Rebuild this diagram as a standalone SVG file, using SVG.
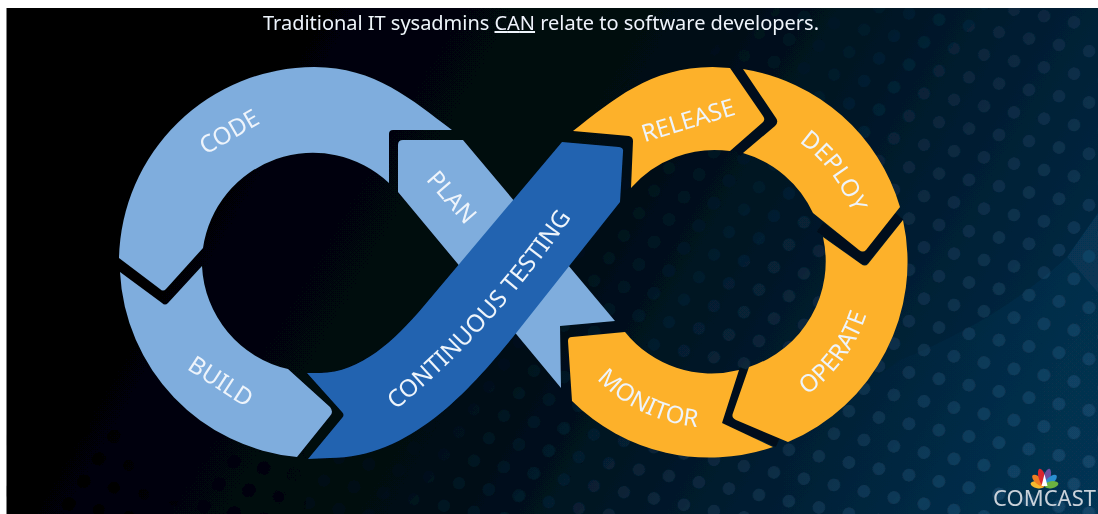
<svg xmlns="http://www.w3.org/2000/svg" width="1098" height="514" viewBox="0 0 1098 514">
<style>
.lb{fill:#7faddd}.db{fill:#2264b0}.or{fill:#fdb12a}
.t{font-family:"Noto Sans","Open Sans","DejaVu Sans",sans-serif;fill:#eef4fb;font-size:24px}
.c{text-anchor:middle}
.gap{fill:none;stroke:#01101b;stroke-width:11;stroke-linejoin:round}
</style>
<defs>
<linearGradient id="bg" gradientUnits="userSpaceOnUse" x1="280" y1="40" x2="1098" y2="514">
<stop offset="0" stop-color="#000305"/><stop offset=".35" stop-color="#000a12"/><stop offset=".62" stop-color="#021a2c"/><stop offset="1" stop-color="#05304f"/>
</linearGradient>
<linearGradient id="bandG" gradientUnits="userSpaceOnUse" x1="780" y1="400" x2="1060" y2="400">
<stop offset="0" stop-color="#0a4468" stop-opacity="0"/><stop offset="1" stop-color="#0a4468" stop-opacity=".22"/>
</linearGradient>
<linearGradient id="fadeG" gradientUnits="userSpaceOnUse" x1="620" y1="80" x2="1020" y2="460">
<stop offset="0" stop-color="#000"/><stop offset="1" stop-color="#fff"/>
</linearGradient>
<linearGradient id="fadeL" gradientUnits="userSpaceOnUse" x1="0" y1="420" x2="0" y2="514">
<stop offset="0" stop-color="#000"/><stop offset="1" stop-color="#fff"/>
</linearGradient>
<mask id="fade" maskUnits="userSpaceOnUse" x="0" y="0" width="1098" height="514"><rect width="1098" height="514" fill="url(#fadeG)"/></mask>
<mask id="fadeB" maskUnits="userSpaceOnUse" x="0" y="0" width="1098" height="514"><rect x="6" y="420" width="300" height="94" fill="url(#fadeL)"/></mask>
<pattern id="dots" patternUnits="userSpaceOnUse" width="30" height="22.5" patternTransform="matrix(1 .21 -.667 1 1006.5 200.6)">
<circle r="6.3" fill="#3a7dab" fill-opacity=".24" transform="matrix(.877 -.184 .585 .877 15 11.25)"/>
</pattern>
<pattern id="dotsK" patternUnits="userSpaceOnUse" width="30" height="22.5" patternTransform="matrix(1 .21 -.667 1 1006.5 200.6)">
<circle r="6" fill="#000" fill-opacity=".35" transform="matrix(.877 -.184 .585 .877 15 11.25)"/>
</pattern>
<filter id="soft" filterUnits="userSpaceOnUse" x="0" y="0" width="1098" height="514"><feGaussianBlur stdDeviation=".55"/></filter>
<path id="pDeploy" d="M749.4 119.4A144 144 0 0 1 859.3 266.7"/>
<path id="pOperate" d="M725.9 423.2A158 158 0 0 0 870.2 228.9"/>
<path id="pMonitor" d="M556.6 307.5A160 160 0 0 0 777.9 413.1"/>
<path id="pTest" d="M370 430Q493 338 590 190"/>
</defs>
<rect width="1098" height="514" fill="#fff"/>
<g filter="url(#soft)">
<g id="background">
<rect x="6.5" y="8" width="1092" height="506" fill="url(#bg)"/>
<path d="M1067 257Q1000 320 900 360L690 514H1098V293Z" fill="url(#bandG)"/>
<path d="M1098 213L1067 257L1098 293Z" fill="#0a4468" fill-opacity=".45"/>
<rect x="6.5" y="8" width="1092" height="506" fill="url(#dots)" mask="url(#fade)"/>
<rect x="6.5" y="8" width="1092" height="506" fill="url(#dotsK)" mask="url(#fadeB)"/>
</g>
<text id="title" class="t" x="263" y="30" style="font-size:20px" textLength="556">Traditional IT sysadmins <tspan text-decoration="underline">CAN</tspan> relate to software developers.</text>
<g id="gaps">
<path class="gap" d="M738 70L772 121L737 152"/>
<path class="gap" d="M899 216L864 259L820 227"/>
<path class="gap" d="M745 369L728 420L778 442"/>
</g>
<g id="plan">
<path class="lb" d="M398 192V145Q398 140 403 140H463L615 321L560 326L561 388Z"/>
<text class="t c" transform="translate(452 197) rotate(49)" dy=".36em">PLAN</text>
</g>
<g id="code">
<path class="lb" d="M452 130C412 100 375 67 314.5 67A195.5 195.5 0 0 0 119 258L160 289Q163 292 166 289L203 248A111 111 0 0 1 389 183V134Q389 130 393 130Z"/>
<text class="t c" transform="translate(229 131.5) rotate(-30)" dy=".36em">CODE</text>
</g>
<g id="build">
<path class="lb" d="M120 272L162 303Q165 306 168 303L202 266A111 111 0 0 0 288 369L330 407Q334 412 330 416L297 457A195.5 195.5 0 0 1 120 272Z"/>
<text class="t c" transform="translate(221 381) rotate(33)" dy=".36em">BUILD</text>
</g>
<g id="continuous-testing">
<path class="db" d="M307 373H320C360 373 395 340 423 307L562 142L619 147Q624 148 623 152L620 202L570 265L513 337C470 390 410 458 330 458L308 459L342 418Q345 415 342 412Z"/>
<text class="t c"><textPath href="#pTest" startOffset="50%">CONTINUOUS TESTING</textPath></text>
</g>
<g id="release">
<path class="or" d="M573 131C613 100 650 67 712.5 67L730 68L763 116Q766 120 762 123L730 151A111 111 0 0 0 631 188L633 141Q633 137 629 136Z"/>
<text class="t c" transform="translate(688 120) rotate(-17)" dy=".36em">RELEASE</text>
</g>
<g id="deploy">
<path class="or" d="M743 69A195.5 195.5 0 0 1 900 207L866 250Q863 253 859 250L813 213A111 111 0 0 0 743 153L775 126Q779 122 776 118Z"/>
<text class="t c"><textPath href="#pDeploy" startOffset="50%">DEPLOY</textPath></text>
</g>
<g id="operate">
<path class="or" d="M903 220A195.5 195.5 0 0 1 788 442L736 420Q731 418 733 413L749 367A111 111 0 0 0 823 237L861 264Q865 267 868 264Z"/>
<text class="t c"><textPath href="#pOperate" startOffset="50%">OPERATE</textPath></text>
</g>
<g id="monitor">
<path class="or" d="M572 337L625 332A111 111 0 0 0 739 370L722 423L773 447A195.5 195.5 0 0 1 572 401L568 341Q568 337 572 337Z"/>
<text class="t c"><textPath href="#pMonitor" startOffset="50%">MONITOR</textPath></text>
</g>
<g id="logo">
<g transform="translate(1044.5 486)">
<ellipse cy="-7" rx="3.5" ry="7" fill="#f5b92e" transform="rotate(-80)"/>
<ellipse cy="-8" rx="3.6" ry="8" fill="#ef7d22" transform="rotate(-48)"/>
<ellipse cy="-9" rx="3.4" ry="9" fill="#d9252f" transform="rotate(-16)"/>
<ellipse cy="-9" rx="3.4" ry="9" fill="#6a4fa0" transform="rotate(16)"/>
<ellipse cy="-8" rx="3.6" ry="8" fill="#2a8fd0" transform="rotate(48)"/>
<ellipse cy="-7" rx="3.5" ry="7" fill="#6cb33f" transform="rotate(80)"/>
<path d="M-3 0L0 -12L3 0Z" fill="#fff"/>
</g>
<text x="993" y="505.5" font-family="'Noto Sans','Open Sans',sans-serif" font-size="22" fill="#c9d2da" textLength="103">COMCAST</text>
</g>
</g>
</svg>
